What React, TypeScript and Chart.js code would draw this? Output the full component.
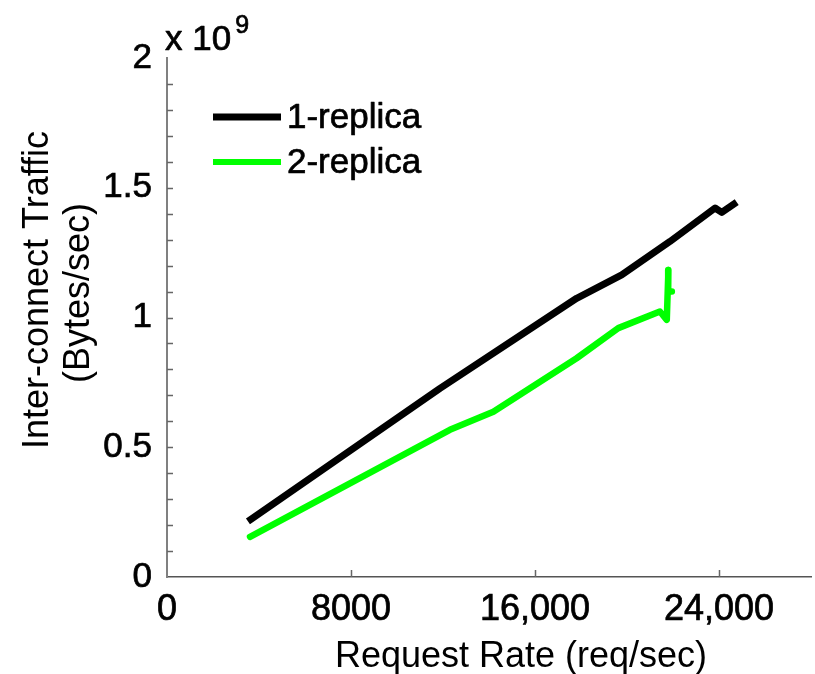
import React, { useEffect, useRef } from 'react';
import { Chart, registerables } from 'chart.js';

Chart.register(...registerables);

// ---- data (y values in units of 1e9 bytes/sec) ----
const seriesLabels = ['1-replica', '2-replica'];
const seriesColors = ['#000000', '#00ff00'];

const replica1X = [3520, 11870, 17810, 19770, 21870, 23830, 24120, 24770];
const replica1Y = [0.214, 0.727, 1.074, 1.164, 1.293, 1.422, 1.405, 1.445];

const replica2X = [3610, 12300, 14190, 17810, 19620, 21430, 21730, 21800, 21790, 21950];
const replica2Y = [0.155, 0.567, 0.637, 0.843, 0.959, 1.023, 0.991, 1.183, 1.1, 1.1];

const xTickValues = [0, 8000, 16000, 24000];
const xTickLabels = ['0', '8000', '16,000', '24,000'];
const yTickValues = [0, 0.5, 1, 1.5, 2];
const yTickLabels = ['0', '0.5', '1', '1.5', '2'];
const yMinorTicks = [0.1, 0.2, 0.3, 0.4, 0.5, 0.6, 0.7, 0.8, 0.9, 1, 1.1, 1.2, 1.3, 1.4, 1.5, 1.6, 1.7, 1.8, 1.9];
const xMax = 28000;
const yMax = 2;
const yScaleFactor = 1e9;

const xAxisTitle = 'Request Rate (req/sec)';
const yAxisTitle = ['Inter-connect Traffic', '(Bytes/sec)'];
const yExponentBase = 'x 10';
const yExponentPower = '9';

const FONT = "'Liberation Sans', Arial, sans-serif";
const TEXT_STROKE = 0.7;

const toPoints = (xs: number[], ys: number[]) => xs.map((x, i) => ({ x, y: ys[i] * yScaleFactor }));

function heavyText(ctx: CanvasRenderingContext2D, t: string, x: number, y: number) {
  ctx.fillText(t, x, y);
  ctx.strokeText(t, x, y);
}

const decorPlugin = {
  id: 'decor',
  afterDraw(chart: any) {
    const { ctx, chartArea } = chart;
    const xs = chart.scales.x;
    const ys = chart.scales.y;
    ctx.save();
    // inward tick marks
    ctx.strokeStyle = '#666';
    ctx.lineWidth = 1.5;
    ctx.beginPath();
    yMinorTicks.forEach((v) => {
      const py = Math.round(ys.getPixelForValue(v * yScaleFactor)) + 0.5;
      ctx.moveTo(chartArea.left, py);
      ctx.lineTo(chartArea.left + 6, py);
    });
    xTickValues.slice(1).forEach((v) => {
      const px = Math.round(xs.getPixelForValue(v)) + 0.5;
      ctx.moveTo(px, chartArea.bottom);
      ctx.lineTo(px, chartArea.bottom - 7);
    });
    ctx.stroke();

    ctx.fillStyle = '#000';
    ctx.strokeStyle = '#000';
    ctx.lineWidth = TEXT_STROKE;
    ctx.lineJoin = 'round';
    // exponent label
    ctx.textAlign = 'left';
    ctx.textBaseline = 'alphabetic';
    ctx.font = `35px ${FONT}`;
    heavyText(ctx, yExponentBase, chartArea.left - 2, 50);
    const w = ctx.measureText(yExponentBase).width;
    ctx.font = `25px ${FONT}`;
    heavyText(ctx, yExponentPower, chartArea.left - 2 + w + 4, 33);

    // x axis title
    ctx.font = `36px ${FONT}`;
    ctx.textAlign = 'center';
    ctx.fillText(xAxisTitle, 521, 667);

    // y axis title (two lines, rotated)
    const yBaselines = [48, 89];
    const yCenters = [290, 293];
    yAxisTitle.forEach((t, i) => {
      ctx.save();
      ctx.translate(yBaselines[i], yCenters[i]);
      ctx.rotate(-Math.PI / 2);
      ctx.textAlign = 'center';
      ctx.fillText(t, 0, 0);
      ctx.restore();
    });

    // legend
    const legendLineY = [117, 162];
    const legendTextY = [128, 173];
    const legendLineW = [7, 6];
    chart.data.datasets.forEach((ds: any, i: number) => {
      ctx.strokeStyle = ds.borderColor;
      ctx.lineWidth = legendLineW[i];
      ctx.lineCap = 'butt';
      ctx.beginPath();
      ctx.moveTo(213, legendLineY[i]);
      ctx.lineTo(281, legendLineY[i]);
      ctx.stroke();
      ctx.fillStyle = '#000';
      ctx.strokeStyle = '#000';
      ctx.lineWidth = TEXT_STROKE;
      ctx.font = `35px ${FONT}`;
      ctx.textAlign = 'left';
      heavyText(ctx, ds.label, 287, legendTextY[i]);
    });
    ctx.restore();
  },
};

export default function App() {
  const canvasRef = useRef<HTMLCanvasElement | null>(null);

  useEffect(() => {
    if (!canvasRef.current) return;
    const chart = new Chart(canvasRef.current, {
      type: 'line',
      data: {
        datasets: [
          {
            label: seriesLabels[0],
            data: toPoints(replica1X, replica1Y),
            borderColor: seriesColors[0],
            backgroundColor: seriesColors[0],
            borderWidth: 7,
            pointRadius: 0,
            tension: 0,
            borderJoinStyle: 'round',
            borderCapStyle: 'butt',
          },
          {
            label: seriesLabels[1],
            data: toPoints(replica2X, replica2Y),
            borderColor: seriesColors[1],
            backgroundColor: seriesColors[1],
            borderWidth: 6.5,
            pointRadius: 0,
            tension: 0,
            borderJoinStyle: 'round',
            borderCapStyle: 'round',
          },
        ],
      },
      options: {
        responsive: false,
        animation: false,
        events: [],
        layout: { padding: { top: 58, right: 4, left: 0, bottom: 0 } },
        plugins: { legend: { display: false }, tooltip: { enabled: false } },
        scales: {
          x: {
            type: 'linear',
            min: 0,
            max: xMax,
            grid: { display: false },
            border: { display: true, color: '#555', width: 1.5 },
            afterBuildTicks: (scale: any) => {
              scale.ticks = xTickValues.map((v) => ({ value: v }));
            },
            afterFit: (scale: any) => {
              scale.height = 97;
            },
            ticks: {
              color: '#000',
              textStrokeColor: '#000',
              textStrokeWidth: TEXT_STROKE,
              font: { family: FONT, size: 36 },
              padding: 3,
              maxRotation: 0,
              autoSkip: false,
              callback: (v: any) => {
                const i = xTickValues.indexOf(Number(v));
                return i >= 0 ? xTickLabels[i] : '';
              },
            },
          },
          y: {
            type: 'linear',
            min: 0,
            max: yMax * yScaleFactor,
            grid: { display: false },
            border: { display: true, color: '#808080', width: 2 },
            afterBuildTicks: (scale: any) => {
              scale.ticks = yTickValues.map((v) => ({ value: v * yScaleFactor }));
            },
            afterFit: (scale: any) => {
              scale.width = 167;
            },
            ticks: {
              color: '#000',
              textStrokeColor: '#000',
              textStrokeWidth: TEXT_STROKE,
              font: { family: FONT, size: 35 },
              padding: 7,
              autoSkip: false,
              callback: (v: any) => {
                const i = yTickValues.findIndex((t) => Math.abs(t * yScaleFactor - Number(v)) < 1);
                return i >= 0 ? yTickLabels[i] : '';
              },
            },
          },
        },
      },
      plugins: [decorPlugin],
    } as any);
    return () => chart.destroy();
  }, []);

  return (
    <div style={{ position: 'absolute', left: 0, top: 0, width: 815, height: 674, background: '#fff' }}>
      <canvas ref={canvasRef} width={815} height={674} />
    </div>
  );
}
